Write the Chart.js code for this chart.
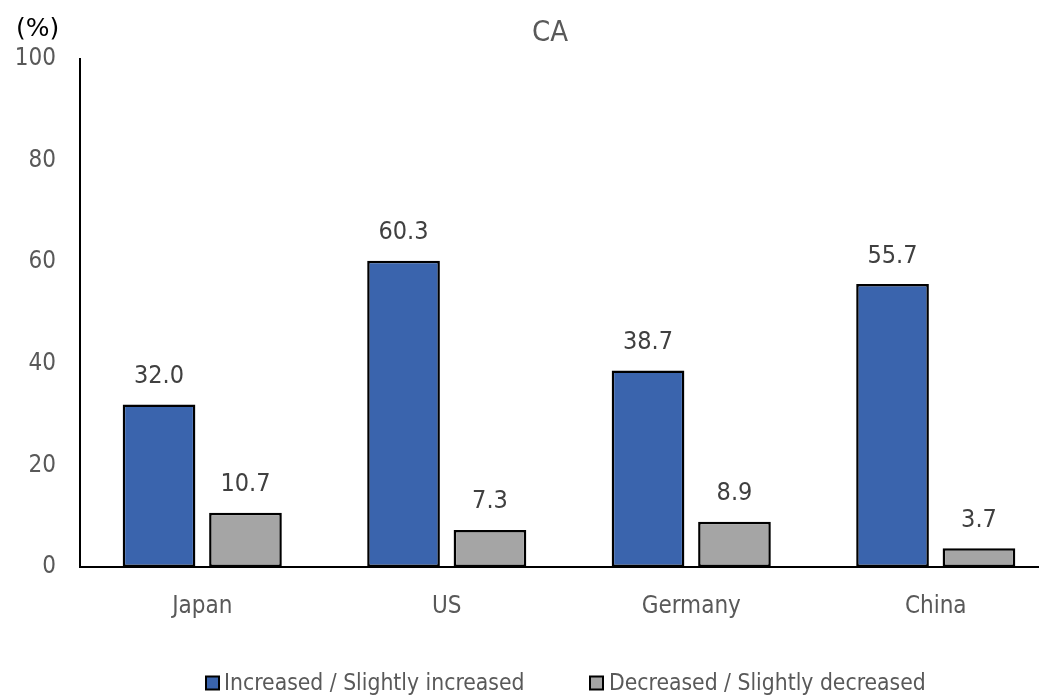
<!DOCTYPE html>
<html>
<head>
<meta charset="utf-8">
<script src="https://cdn.jsdelivr.net/npm/chart.js@4/dist/chart.umd.min.js"></script>
<style>
  html, body { margin: 0; padding: 0; background: #fff; overflow: hidden; }
  #wrap { width: 1039px; height: 696px; position: relative; overflow: hidden; }
  #c { position: absolute; left: 0; top: 0; }
</style>
</head>
<body>
<div id="wrap"><canvas id="c" width="1058" height="696"></canvas></div>
<script>
const countries = ['Japan', 'US', 'Germany', 'China'];
const increased = [32.0, 60.3, 38.7, 55.7];
const decreased = [10.7, 7.3, 8.9, 3.7];
const seriesNames = ['Increased / Slightly increased', 'Decreased / Slightly decreased'];
const yTicks = [0, 20, 40, 60, 80, 100];
const chartTitle = 'CA';
const unitText = '(%)';

const FONT = "'DejaVu Sans Condensed', 'DejaVu Sans', sans-serif";
const TEXT_GREY = '#595959';

// Value labels above each bar
const valueLabels = {
  id: 'valueLabels',
  afterDatasetsDraw(chart) {
    const ctx = chart.ctx;
    ctx.save();
    ctx.font = '25px ' + FONT;
    ctx.fillStyle = '#404040';
    ctx.textAlign = 'center';
    ctx.textBaseline = 'middle';
    chart.data.datasets.forEach((ds, i) => {
      chart.getDatasetMeta(i).data.forEach((bar, j) => {
        ctx.fillText(ds.data[j].toFixed(1), bar.x, bar.y - 28);
      });
    });
    ctx.restore();
  }
};

// Title, unit caption and legend
const decorations = {
  id: 'decorations',
  afterDraw(chart) {
    const ctx = chart.ctx;
    ctx.save();
    ctx.textBaseline = 'middle';

    ctx.font = '29px ' + FONT;
    ctx.fillStyle = TEXT_GREY;
    ctx.textAlign = 'center';
    ctx.fillText(chartTitle, 550, 33);

    ctx.font = "25px 'DejaVu Sans', sans-serif";
    ctx.fillStyle = '#000';
    ctx.textAlign = 'left';
    ctx.fillText(unitText, 16, 29);

    const items = [{ box: 206, text: 224 }, { box: 590, text: 609 }];
    const ly = 683;
    ctx.font = '22.7px ' + FONT;
    chart.data.datasets.forEach((ds, i) => {
      const it = items[i];
      ctx.fillStyle = ds.backgroundColor;
      ctx.fillRect(it.box, ly - 6.5, 13, 13);
      ctx.strokeStyle = '#000';
      ctx.lineWidth = 2;
      ctx.strokeRect(it.box, ly - 6.5, 13, 13);
      ctx.fillStyle = TEXT_GREY;
      ctx.fillText(ds.label, it.text, ly + 1.5);
    });
    ctx.restore();
  }
};

new Chart(document.getElementById('c'), {
  type: 'bar',
  data: {
    labels: countries,
    datasets: [
      { label: seriesNames[0], data: increased, backgroundColor: '#3A64AD', borderColor: '#000', borderWidth: 2.5, borderSkipped: false },
      { label: seriesNames[1], data: decreased, backgroundColor: '#A5A5A5', borderColor: '#000', borderWidth: 2.5, borderSkipped: false }
    ]
  },
  options: {
    responsive: false,
    animation: false,
    devicePixelRatio: 1,
    layout: { padding: { top: 59, right: 0, bottom: 0, left: 0 } },
    datasets: { bar: { categoryPercentage: 0.707, barPercentage: 0.841 } },
    plugins: {
      title: { display: false },
      legend: { display: false },
      tooltip: { enabled: false }
    },
    scales: {
      x: {
        afterFit(axis) { axis.height = 696 - 567; },
        grid: { display: false, drawTicks: false },
        border: { color: '#000', width: 2 },
        ticks: { color: TEXT_GREY, font: { family: FONT, size: 24 }, padding: 25 }
      },
      y: {
        min: 0, max: 100,
        afterBuildTicks(axis) { axis.ticks = yTicks.map(v => ({ value: v })); },
        afterFit(axis) { axis.width = 80; },
        grid: { display: false, drawTicks: false },
        border: { color: '#000', width: 2 },
        ticks: { color: TEXT_GREY, font: { family: FONT, size: 24 }, padding: 24 }
      }
    }
  },
  plugins: [valueLabels, decorations]
});
</script>
</body>
</html>
